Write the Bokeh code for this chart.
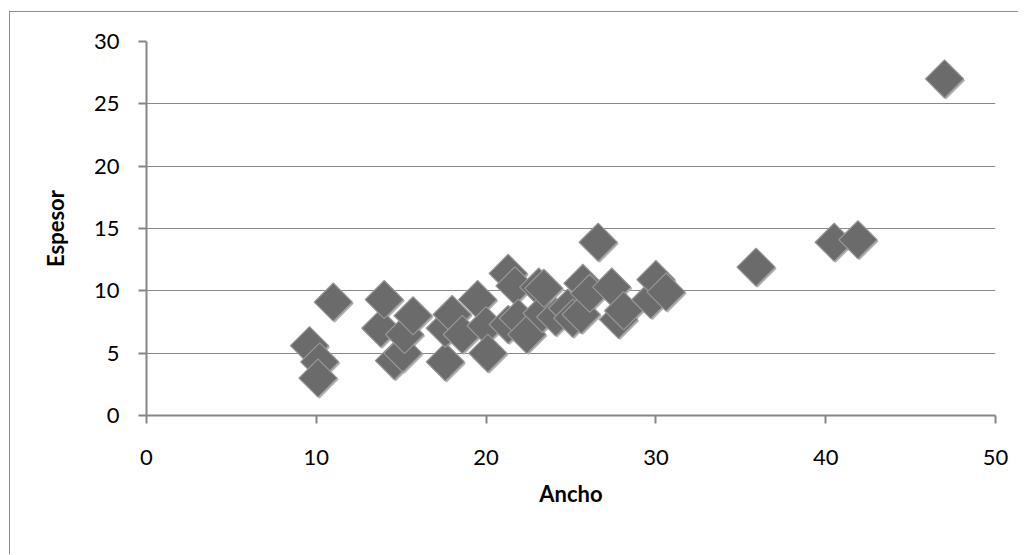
import math
from bokeh.plotting import figure
from bokeh.models import ColumnDataSource, FixedTicker
from bokeh.transform import dodge
from bokeh.embed import file_html
from bokeh.resources import INLINE

# Data
ancho = [9.6, 10.2, 10.1, 11.0, 13.8, 14.0, 14.6, 15.1, 15.2, 15.7,
         17.6, 17.6, 18.0, 18.6, 19.5, 20.0, 20.1, 21.3, 21.3, 21.7,
         21.9, 22.4, 23.1, 23.3, 23.4, 24.1, 24.8, 25.1, 25.6, 25.7,
         26.1, 26.6, 27.4, 27.8, 28.1, 29.7, 30.0, 30.6, 35.9, 40.5,
         41.9, 47.0]
espesor = [5.6, 4.3, 3.0, 9.1, 7.0, 9.3, 4.4, 5.0, 6.5, 8.0,
           4.3, 7.0, 8.1, 6.5, 9.3, 7.2, 5.0, 11.4, 7.3, 10.4,
           7.8, 6.5, 10.3, 8.2, 10.2, 7.9, 8.6, 7.8, 8.1, 10.6,
           9.8, 13.9, 10.3, 7.7, 8.4, 9.3, 10.9, 9.9, 11.9, 13.9,
           14.1, 27.0]
x_ticks = [0, 10, 20, 30, 40, 50]
y_ticks = [0, 5, 10, 15, 20, 25, 30]
x_title = "Ancho"
y_title = "Espesor"

src = ColumnDataSource(data=dict(x=ancho, y=espesor))

p = figure(width=1008, height=542, output_backend="svg", toolbar_location=None,
           x_range=(0, 50), y_range=(0, 30),
           frame_width=849, frame_height=374,
           min_border_left=136, min_border_top=29, min_border_right=23,
           min_border_bottom=139)
p.styles = {"border-left": "1px solid #8c8c8c", "border-top": "1px solid #8c8c8c",
            "margin-left": "9px", "margin-top": "11px"}
p.outline_line_color = None
p.background_fill_color = "white"
p.border_fill_color = "white"

p.xgrid.grid_line_color = None
p.ygrid.grid_line_color = "#8a8a8a"
p.ygrid.grid_line_width = 1.2

p.xaxis.ticker = FixedTicker(ticks=x_ticks)
p.yaxis.ticker = FixedTicker(ticks=y_ticks)
for ax in (p.xaxis[0], p.yaxis[0]):
    ax.axis_line_color = "#868686"
    ax.axis_line_width = 2
    ax.major_tick_line_color = "#868686"
    ax.major_tick_line_width = 2
    ax.major_tick_out = 8
    ax.major_tick_in = 0
    ax.minor_tick_line_color = None
    ax.major_label_text_font = "Lato"
    ax.major_label_text_font_size = "22px"
    ax.major_label_text_color = "black"
    ax.axis_label_text_font = "Lato"
    ax.axis_label_text_font_size = "22px"
    ax.axis_label_text_font_style = "bold"
    ax.axis_label_text_color = "black"

p.xaxis.major_label_standoff = 26
p.yaxis.major_label_standoff = 19
p.xaxis.axis_label = x_title
p.yaxis.axis_label = y_title
p.xaxis.axis_label_standoff = 12
p.yaxis.axis_label_standoff = 22

# shadow
p.scatter(dodge("x", 0.09), dodge("y", -0.12), source=src, marker="square",
          size=27, angle=math.pi / 4, fill_color="#b4b4b4", line_color=None)
p.scatter("x", "y", source=src, marker="square", size=27, angle=math.pi / 4,
          fill_color="#6b6b6b", line_color="#979797", line_width=1.2)

open("out.html", "w").write(file_html(p, INLINE))
